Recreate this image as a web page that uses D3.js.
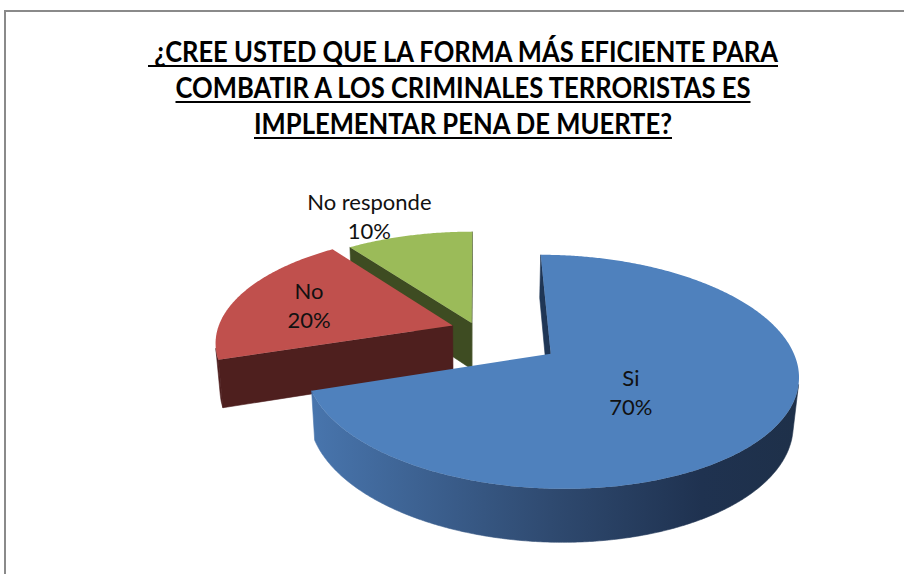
<!DOCTYPE html>
<html><head><meta charset="utf-8">
<script src="https://cdn.jsdelivr.net/npm/d3@7"></script>
<style>body{margin:0;background:#fff;}svg{display:block;}</style>
</head><body>
<svg id="chart" width="904" height="574"></svg>
<script>
// ---- data ----
const categories = ["Si", "No", "No responde"];
const values = [70, 20, 10];
const percentLabels = ["70%", "20%", "10%"];
const titleLines = ["\u00A0¿CREE USTED QUE LA FORMA MÁS EFICIENTE PARA",
                    "COMBATIR A LOS CRIMINALES TERRORISTAS ES",
                    "IMPLEMENTAR PENA DE MUERTE?"];

// ---- style / layout ----
const topColors = ["#4f81bd", "#c0504d", "#9bbb59"];
const sideColors = ["url(#blueSide)", "#4e1f1e", "#3e4c22"];
const radialColors = ["#1f3656", "#4e1f1e", "#3e4c22"];
const explode = [0.38, 0.105, 0.06];
const labelR = [0.38, 0.65, 1.22];
const labelShift = [[0, 12], [-4, 0], [-28, -3]];
const view = {cx: 476, cy: 329, k: 235, elev: 27 * Math.PI / 180, D: 5.94, H: 0.226};

const svg = d3.select("#chart");
const W = 904, Hh = 574;

// frame
svg.append("path").attr("d", `M5,${Hh} L5,11 L${W},11`).attr("fill", "none")
  .attr("stroke", "#8a8a8a").attr("stroke-width", 2);

// title
const titleX = 463, titleBase = [62, 98, 134], titleWidths = [630, 575, 418];
titleLines.forEach((t, i) => {
  svg.append("text").attr("x", titleX).attr("y", titleBase[i])
    .attr("text-anchor", "middle")
    .attr("font-family", "Lato, 'Open Sans', sans-serif").attr("font-weight", "bold")
    .attr("font-size", 29).attr("fill", "#000")
    .attr("textLength", titleWidths[i]).attr("lengthAdjust", "spacingAndGlyphs")
    .text(t);
  svg.append("line").attr("x1", titleX - titleWidths[i] / 2).attr("x2", titleX + titleWidths[i] / 2)
    .attr("y1", titleBase[i] + 4).attr("y2", titleBase[i] + 4)
    .attr("stroke", "#000").attr("stroke-width", 2);
});

// ---- 3D projection ----
const se = Math.sin(view.elev), ce = Math.cos(view.elev);
function proj(u, v, w) {
  const Y = v * se + w * ce, Z = v * ce - w * se;
  const p = view.D / (view.D + Z);
  return [view.cx + view.k * u * p, view.cy - view.k * Y * p];
}
const cam = [0, -view.D * ce, view.D * se];
function facing(n, pt) {
  return n[0] * (cam[0] - pt[0]) + n[1] * (cam[1] - pt[1]) + n[2] * (cam[2] - pt[2]) > 0;
}

const pie = d3.pie().sort(null).value(d => d)(values);

const defs = svg.append("defs");
const grad = defs.append("linearGradient").attr("id", "blueSide").attr("gradientUnits", "userSpaceOnUse");
[[0, "#4875ad"], [0.49, "#2f4a70"], [0.8, "#1f3250"], [1, "#1e3049"]].forEach(s =>
  grad.append("stop").attr("offset", s[0]).attr("stop-color", s[1]));

const slices = pie.map((d, i) => {
  const m = (d.startAngle + d.endAngle) / 2;
  return {d, i, m, ou: explode[i] * Math.sin(m), ov: explode[i] * Math.cos(m)};
});
// draw far slices first
slices.sort((a, b) => b.ov - a.ov);

const line = d3.line();
const Hs = view.H;
slices.forEach(s => {
  const {d, i, ou, ov} = s;
  const a0 = d.startAngle, a1 = d.endAngle;
  const W3 = (th, r, w) => [ou + r * Math.sin(th), ov + r * Math.cos(th), w];
  const P = (th, r, w) => { const q = W3(th, r, w); return proj(q[0], q[1], q[2]); };
  const g = svg.append("g");

  // radial faces
  const radial = [[a0, [-Math.cos(a0), Math.sin(a0), 0]], [a1, [Math.cos(a1), -Math.sin(a1), 0]]];
  radial.forEach(([a, n]) => {
    if (facing(n, W3(a, 0.5, -Hs / 2))) {
      const pts = [P(a, 0, 0), P(a, 1, 0), P(a, 1, -Hs), P(a, 0, -Hs)];
      g.append("path").attr("d", line(pts) + "Z").attr("fill", radialColors[i])
        .attr("stroke", radialColors[i]).attr("stroke-width", 0.6);
    }
  });

  // outer curved side
  const n = Math.ceil((a1 - a0) / (0.5 * Math.PI / 180));
  const step = (a1 - a0) / n;
  let runs = [], cur = null;
  for (let j = 0; j < n; j++) {
    const t0 = a0 + j * step, t1 = t0 + step, tm = (t0 + t1) / 2;
    const vis = facing([Math.sin(tm), Math.cos(tm), 0], W3(tm, 1, -Hs / 2));
    if (vis) { if (!cur) { cur = [t0, t1]; runs.push(cur); } else cur[1] = t1; }
    else cur = null;
  }
  runs.forEach(([r0, r1]) => {
    const m2 = Math.max(2, Math.ceil((r1 - r0) / step));
    const topPts = d3.range(m2 + 1).map(k => P(r0 + (r1 - r0) * k / m2, 1, 0));
    const botPts = d3.range(m2, -1, -1).map(k => P(r0 + (r1 - r0) * k / m2, 1, -Hs));
    if (i === 0) {
      const xs = topPts.map(p => p[0]);
      grad.attr("x1", d3.min(xs)).attr("x2", d3.max(xs)).attr("y1", 0).attr("y2", 0);
    }
    g.append("path").attr("d", line(topPts.concat(botPts)) + "Z")
      .attr("fill", sideColors[i]).attr("stroke", sideColors[i]).attr("stroke-width", 0.6);
  });

  // top face
  const nt = Math.ceil((a1 - a0) / (0.5 * Math.PI / 180));
  const arc = d3.range(nt + 1).map(k => P(a0 + (a1 - a0) * k / nt, 1, 0));
  g.append("path").attr("d", line([P(0, 0, 0)].concat(arc)) + "Z").attr("fill", topColors[i]);
});

// labels
pie.forEach((d, i) => {
  const s = slices.find(x => x.i === i);
  const q = proj(s.ou + labelR[i] * Math.sin(s.m), s.ov + labelR[i] * Math.cos(s.m), 0);
  const x = q[0] + labelShift[i][0], y = q[1] + labelShift[i][1];
  const t = svg.append("text").attr("text-anchor", "middle")
    .attr("font-family", "Lato, 'Open Sans', sans-serif").attr("font-size", 22).attr("fill", "#111");
  t.append("tspan").attr("x", x).attr("y", y - 6).text(categories[i]);
  t.append("tspan").attr("x", x).attr("y", y + 23).text(percentLabels[i]);
});
</script>
</body></html>
